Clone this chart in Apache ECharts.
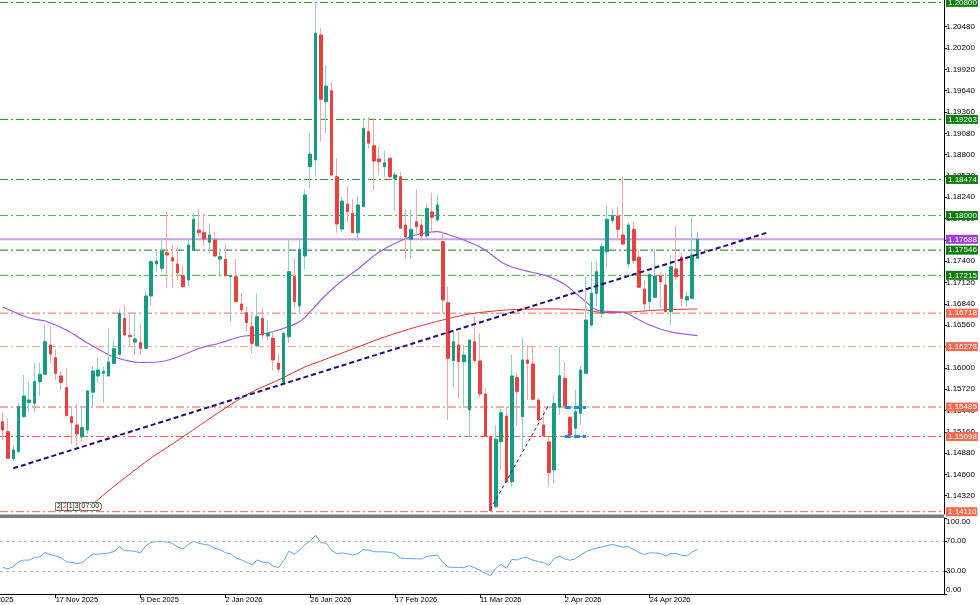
<!DOCTYPE html>
<html>
<head>
<meta charset="utf-8">
<script src="https://cdn.jsdelivr.net/npm/echarts@6/dist/echarts.min.js"></script>
<style>html,body{margin:0;padding:0;background:#fff}#c{width:980px;height:605px}</style>
</head>
<body>
<div id="c"></div>
<script>
// ---------- DATA ----------
const startDate = '2025-11-03';
const holidays = ['2025-12-25', '2026-01-01'];
const totalSlots = 178;

const opens = [1.15292,1.15161,1.14803,1.14898,1.15358,1.15542,1.15534,1.15818,1.15915,1.16300,
1.16133,1.15893,1.15739,1.15358,1.15249,1.15095,1.15183,1.15679,1.15893,1.15928,
1.15893,1.16059,1.16178,1.16650,1.16427,1.16339,1.16330,1.16256,1.16943,1.17364,
1.17307,1.17512,1.17446,1.17364,1.17210,1.17154,1.17548,1.17810,1.17775,1.17649,
1.17679,1.17429,1.17425,1.17197,1.17197,1.16838,1.16724,1.16540,1.16291,1.16650,
1.16418,1.16388,1.16059,1.15814,1.16409,1.17197,1.16812,1.17469,1.18642,1.18730,
1.20371,1.19495,1.19640,1.18510,1.17823,1.18152,1.18030,1.17775,1.18116,1.19101,
1.18917,1.18743,1.18642,1.18752,1.18489,1.18510,1.17876,1.17688,1.17919,1.17876,
1.17731,1.18047,1.17942,1.17657,1.16855,1.16094,1.16300,1.16080,1.15446,1.16343,
1.16090,1.15656,1.15095,1.14176,1.15030,1.15367,1.14504,1.15870,1.15358,1.16103,
1.16050,1.15577,1.15249,1.15026,1.14658,1.15482,1.15862,1.15350,1.15206,1.15403,
1.15928,1.16562,1.16979,1.16716,1.17525,1.17932,1.17994,1.17745,1.17364,1.17819,
1.17452,1.17035,1.16869,1.16926,1.17206,1.17088,1.16737,1.17298,1.17452,1.16891,
1.16913,1.17438];
const closes = [1.15183,1.14812,1.14921,1.15489,1.15630,1.15577,1.15818,1.15915,1.16343,1.16182,
1.15928,1.15810,1.15371,1.15279,1.15131,1.15214,1.15696,1.15958,1.15971,1.15954,
1.16077,1.16251,1.16716,1.16431,1.16409,1.16379,1.16256,1.16943,1.17394,1.17403,
1.17534,1.17482,1.17403,1.17249,1.17066,1.17613,1.17951,1.17775,1.17692,1.17745,
1.17469,1.17460,1.17210,1.17210,1.16869,1.16760,1.16593,1.16322,1.16671,1.16431,
1.16453,1.16103,1.15981,1.16453,1.17263,1.16869,1.17557,1.18270,1.18808,1.20394,
1.19527,1.19701,1.18533,1.17889,1.18191,1.18051,1.17775,1.18139,1.19146,1.18949,
1.18716,1.18707,1.18694,1.18510,1.18533,1.17833,1.17722,1.17819,1.17854,1.17731,
1.18095,1.17977,1.18139,1.16891,1.16125,1.16343,1.16080,1.16168,1.16365,1.16094,
1.15656,1.15105,1.14125,1.15061,1.15411,1.14504,1.15893,1.15686,1.16103,1.16059,
1.15587,1.15315,1.15105,1.14623,1.15534,1.15897,1.15499,1.15118,1.15424,1.15971,
1.16628,1.16979,1.17263,1.17591,1.17951,1.17998,1.17819,1.17626,1.17876,1.17407,
1.17058,1.16838,1.17228,1.17206,1.17131,1.16737,1.17328,1.17197,1.16913,1.16934,
1.17482,1.17688];
const lows = [1.15052,1.14799,1.14767,1.14890,1.15350,1.15411,1.15424,1.15630,1.15905,1.16059,
1.15840,1.15718,1.15365,1.14999,1.14964,1.15030,1.15131,1.15489,1.15805,1.15542,
1.15885,1.16050,1.16170,1.16409,1.16277,1.16168,1.16168,1.16250,1.16825,1.17263,
1.17263,1.17045,1.17045,1.17154,1.17045,1.17075,1.17540,1.17722,1.17613,1.17504,
1.17460,1.17219,1.17197,1.16606,1.16860,1.16737,1.16475,1.16191,1.16285,1.16365,
1.16365,1.15971,1.15936,1.15788,1.16322,1.16782,1.16716,1.17294,1.18358,1.18510,
1.18970,1.19080,1.18510,1.17775,1.17788,1.17906,1.17767,1.17670,1.18108,1.18883,
1.18336,1.18533,1.18510,1.18489,1.18064,1.17825,1.17438,1.17438,1.17745,1.17670,
1.17714,1.17767,1.17919,1.16716,1.15315,1.15752,1.15600,1.15468,1.15087,1.16059,
1.15621,1.15098,1.14110,1.14155,1.14658,1.14483,1.14439,1.15249,1.14898,1.15577,
1.15568,1.15292,1.15095,1.14439,1.14483,1.15380,1.15489,1.15095,1.15074,1.15249,
1.15920,1.16540,1.16803,1.16650,1.17307,1.17898,1.17679,1.17613,1.17307,1.17364,
1.17050,1.16760,1.16760,1.16913,1.16782,1.16730,1.16562,1.17154,1.16803,1.16803,
1.16905,1.17430];
const highs = [1.15411,1.15341,1.14986,1.15534,1.15906,1.15818,1.16067,1.16067,1.16562,1.16540,
1.16243,1.15949,1.15994,1.15489,1.15525,1.15503,1.15709,1.16024,1.16133,1.16015,
1.16519,1.16365,1.16769,1.16825,1.16716,1.16716,1.16585,1.17009,1.17416,1.17525,
1.17688,1.18043,1.17622,1.17591,1.17351,1.17688,1.18030,1.18082,1.18030,1.17898,
1.17788,1.17570,1.17636,1.17219,1.17429,1.16979,1.16803,1.16724,1.16979,1.16782,
1.16628,1.16475,1.16191,1.16475,1.17688,1.17438,1.17679,1.18345,1.19080,1.20805,
1.20459,1.19977,1.19758,1.18752,1.18248,1.18388,1.18213,1.18257,1.19277,1.19290,
1.19277,1.18904,1.18852,1.18760,1.18563,1.18576,1.18082,1.18082,1.18345,1.17964,
1.18152,1.18300,1.18270,1.17788,1.17066,1.16497,1.16475,1.16300,1.16372,1.16671,
1.16453,1.15731,1.15100,1.15249,1.15468,1.15489,1.16168,1.15928,1.16401,1.16300,
1.16300,1.15600,1.15446,1.15095,1.15643,1.16277,1.16067,1.15358,1.15709,1.16037,
1.17197,1.17394,1.17394,1.17636,1.18125,1.18095,1.18116,1.18510,1.17906,1.17919,
1.17548,1.17154,1.17236,1.17557,1.17263,1.17242,1.17482,1.17863,1.17504,1.17000,
1.17972,1.17788];

// moving averages read at [barIndex, price]
const purpleMA = [[0,1.16799],[5,1.16654],[8,1.16615],[12,1.16497],[16,1.16326],[18,1.16247],[21,1.16142],
[26,1.16070],[30,1.16083],[33,1.16142],[37,1.16254],[41,1.16326],[45,1.16411],[48,1.16431],[52,1.16497],
[56,1.16606],[58,1.16737],[60,1.16891],[63,1.17088],[67,1.17298],[71,1.17521],[76,1.17698],[79,1.17764],
[82,1.17788],[84,1.17751],[87,1.17679],[90,1.17587],[92,1.17495],[94,1.17390],[96,1.17324],[100,1.17252],
[103,1.17197],[106,1.17095],[108,1.16983],[110,1.16865],[112,1.16760],[115,1.16738],[117,1.16733],
[119,1.16668],[122,1.16562],[126,1.16471],[131,1.16422]];
const redMA = [[16,1.14146],[19,1.14330],[23,1.14553],[28,1.14816],[32,1.15000],[37,1.15236],[42,1.15472],
[47,1.15683],[52,1.15840],[57,1.16011],[60,1.16090],[66,1.16247],[72,1.16405],[78,1.16536],[83,1.16628],
[88,1.16707],[95,1.16760],[103,1.16773],[110,1.16760],[113,1.16727],[118,1.16733],[124,1.16760],[131,1.16773]];

const rsi = [35,33,36,42.5,44.5,44.7,48,49,54.7,52,
50,47.5,42.5,41.5,40,41.5,47,52.5,52.5,53,
54,56,62,57,56.8,56,54.2,63.5,68,69,
69.2,68.3,66.6,62,59,65,69.4,66.8,65.2,64.2,
59.9,58.5,54.2,53,47.2,45,41.5,38.5,44.7,42,
41.7,36.5,34.8,44,56.5,52.5,58,64.8,69.3,77.3,
67.5,67,57.5,53,54,53,51.3,53,58.5,57.8,
55.7,55.5,55.5,54.8,53.2,47.5,46.8,46.5,46.3,46.1,
49.5,50.6,51,41.5,35.5,35,35,34.5,37.3,34.5,
31.3,27.5,24,33.9,39,34,45.5,44.8,47.7,47.7,
44.5,42.7,41.2,37.5,46.8,49.7,46,44.5,46.5,51.5,
55.7,58.5,60.3,62,63.8,65.1,63.5,61.6,62.6,58.3,
54.6,52,54.2,54,53.5,50,53.5,53.2,51,50.3,
55.5,58.6];

const resistanceLevels = [1.20800, 1.19263, 1.18474, 1.18000, 1.17546, 1.17215];
const supportLevels = [1.16718, 1.16278, 1.15485, 1.15098, 1.14110];
const bidLevel = 1.17688;
const mainTrend = [[2, 1.14680], [144, 1.17772]];
const minorTrend = [[92, 1.14142], [103, 1.15512]];
const orderMarks = [[106, 110, 1.15485], [106, 110, 1.15098]];

const priceTicks = [1.14320,1.14600,1.14880,1.15160,1.15440,1.15720,1.16000,1.16280,1.16560,1.16840,
1.17120,1.17400,1.17680,1.17960,1.18240,1.18520,1.18800,1.19080,1.19360,1.19640,1.19920,1.20200,1.20480];
const rsiTicks = [0, 30, 70, 100];
const rsiLevels = [30, 70];
const priceMin = 1.14080, priceMax = 1.20831;

// ---------- BUILD ----------
const MONTHS = ['Jan','Feb','Mar','Apr','May','Jun','Jul','Aug','Sep','Oct','Nov','Dec'];
function buildDates(n) {
  const out = [];
  const d = new Date(startDate + 'T00:00:00Z');
  while (out.length < n) {
    const iso = d.toISOString().slice(0, 10);
    const wd = d.getUTCDay();
    if (wd !== 0 && wd !== 6 && holidays.indexOf(iso) < 0) {
      out.push(d.getUTCDate() + ' ' + MONTHS[d.getUTCMonth()] + ' ' + d.getUTCFullYear());
    }
    d.setUTCDate(d.getUTCDate() + 1);
  }
  return out;
}
const nBars = opens.length;
const cats = buildDates(nBars);
for (let i = nBars; i < totalSlots; i++) cats.push('f' + i);

const wickData = opens.map((o, i) => [o, closes[i], lows[i], highs[i]]);
const bodyData = opens.map((o, i) => [o, closes[i], Math.min(o, closes[i]), Math.max(o, closes[i])]);

const showLabel = (idx) => idx < nBars && idx >= 10 && (idx - 10) % 16 === 0;
const FONT = 'Liberation Sans';
const greenShades = ['#139a13', '#158f15', '#22a022', '#4cb84c', '#0d7a0d', '#3cae3c'];
const redShades = ['#f06a55', '#f59a88', '#f0604a', '#f0604a', '#f0604a'];

function levelSeries(v, color, bg, solid) {
  return {
    type: 'line', xAxisIndex: 2, yAxisIndex: 0, silent: true, z: 1,
    data: [[0, v], [1, v]], showSymbol: false, symbol: 'none',
    lineStyle: { color: color, type: solid ? 'solid' : [8, 3, 2, 3], width: solid ? 2 : 1 },
    endLabel: {
      show: true, distance: 2, formatter: () => v.toFixed(5),
      color: '#fff', backgroundColor: bg, fontSize: 8, fontFamily: FONT,
      lineHeight: 9, padding: [0, 1, 0, 2]
    }
  };
}
const levelSeriesList = [];
resistanceLevels.forEach((v, i) => levelSeriesList.push(levelSeries(v, greenShades[i], '#0b7d0b', false)));
supportLevels.forEach((v, i) => levelSeriesList.push(levelSeries(v, redShades[i], '#f5694e', false)));
levelSeriesList.push(levelSeries(bidLevel, '#c9a0e8', '#9b3fd3', true));

const trendData = [
  [{ coord: mainTrend[0] }, { coord: mainTrend[1], lineStyle: { color: '#2b0b73', width: 2, type: [5, 3] } }],
  [{ coord: minorTrend[0] }, { coord: minorTrend[1], lineStyle: { color: '#3a1a9e', width: 1, type: [3, 3] } }]
];
orderMarks.forEach(m => trendData.push([{ coord: [m[0], m[2]] },
  { coord: [m[1], m[2]], lineStyle: { color: '#1e88e5', width: 3, type: [6, 3] } }]));

const chart = echarts.init(document.getElementById('c'), null, { renderer: 'canvas' });
chart.setOption({
  animation: false,
  backgroundColor: '#fff',
  textStyle: { fontFamily: FONT },
  grid: [
    { left: 0, right: 36, top: 0, height: 514 },
    { left: 0, right: 36, top: 518, height: 76 }
  ],
  xAxis: [
    { type: 'category', gridIndex: 0, data: cats, boundaryGap: true,
      axisLine: { show: false }, axisTick: { show: false }, axisLabel: { show: false }, splitLine: { show: false } },
    { type: 'category', gridIndex: 1, data: cats, boundaryGap: true,
      axisLine: { show: true, lineStyle: { color: '#000', width: 1 } },
      axisTick: { show: true, alignWithLabel: true, interval: showLabel, length: 4, lineStyle: { color: '#000' } },
      axisLabel: { show: true, interval: showLabel, align: 'left', margin: 2, fontSize: 7.5, color: '#000', fontFamily: FONT },
      splitLine: { show: false } },
    { type: 'value', gridIndex: 0, min: 0, max: 1, show: false,
      axisLine: { show: false, onZero: false }, axisTick: { show: false }, axisLabel: { show: false }, splitLine: { show: false } }
  ],
  yAxis: [
    { type: 'value', gridIndex: 0, position: 'right', min: priceMin, max: priceMax,
      axisLine: { show: true, onZero: false, lineStyle: { color: '#000', width: 1 } },
      axisTick: { show: true, length: 3, customValues: priceTicks, lineStyle: { color: '#000' } },
      axisLabel: { show: true, customValues: priceTicks, formatter: v => v.toFixed(5), margin: 2,
        fontSize: 8, color: '#000', fontFamily: FONT },
      splitLine: { show: false } },
    { type: 'value', gridIndex: 1, position: 'right', min: 0, max: 100,
      axisLine: { show: true, onZero: false, lineStyle: { color: '#000', width: 1 } },
      axisTick: { show: true, length: 3, customValues: rsiTicks, lineStyle: { color: '#000' } },
      axisLabel: { show: true, customValues: rsiTicks, formatter: v => v.toFixed(2), margin: 2,
        fontSize: 8, color: '#000', fontFamily: FONT,
        verticalAlignMinLabel: 'bottom', verticalAlignMaxLabel: 'top' },
      splitLine: { show: false } }
  ],
  series: levelSeriesList.concat([
    { type: 'line', name: 'MA red', xAxisIndex: 0, yAxisIndex: 0, data: redMA, showSymbol: false, smooth: 0.3,
      lineStyle: { color: '#e83030', width: 1 }, z: 2 },
    { type: 'line', name: 'MA purple', xAxisIndex: 0, yAxisIndex: 0, data: purpleMA, showSymbol: false, smooth: 0.3,
      lineStyle: { color: '#a05ce0', width: 1.2 }, z: 2 },
    { type: 'candlestick', name: 'wick', xAxisIndex: 0, yAxisIndex: 0, data: wickData, barWidth: 1, z: 3,
      itemStyle: { color: '#8fd0c3', color0: '#f5a6a6', borderColor: '#8fd0c3', borderColor0: '#f5a6a6', borderWidth: 1 } },
    { type: 'candlestick', name: 'body', xAxisIndex: 0, yAxisIndex: 0, data: bodyData, barWidth: 3, z: 4,
      itemStyle: { color: '#159c84', color0: '#ec3f3f', borderColor: '#159c84', borderColor0: '#ec3f3f', borderWidth: 1 } },
    { type: 'line', name: 'trend', xAxisIndex: 0, yAxisIndex: 0, data: [], z: 5,
      markLine: { silent: true, symbol: 'none', animation: false, label: { show: false }, data: trendData } },
    { type: 'line', name: 'RSI', xAxisIndex: 1, yAxisIndex: 1, data: rsi, showSymbol: false,
      lineStyle: { color: '#5aa8f0', width: 1 },
      markLine: { silent: true, symbol: 'none', animation: false, label: { show: false },
        lineStyle: { color: '#c0c0c0', type: [3, 3], width: 1 },
        data: rsiLevels.map(v => ({ yAxis: v })) } }
  ]),
  graphic: [
    { type: 'rect', shape: { x: 0, y: 514.5, width: 944, height: 3.5 }, style: { fill: '#7a7a7a' }, silent: true },
    { type: 'text', x: -27.5, y: 596, style: { text: '24 Oct 2025', fontSize: 7.5, fill: '#000', fontFamily: FONT } },
    { type: 'text', x: 56, y: 503, z: 10,
      style: { text: '{b|2}{r|2}{b|1}{b|3}{t|07:00}', fontFamily: FONT,
        rich: {
          b: { fontSize: 7, fill: '#222', borderColor: '#444', borderWidth: 0.7, padding: [0, 1, 0, 1], backgroundColor: '#fff' },
          r: { fontSize: 7, fill: '#e33', borderColor: '#444', borderWidth: 0.7, padding: [0, 1, 0, 1], backgroundColor: '#fff' },
          t: { fontSize: 7, fill: '#222', borderColor: '#444', borderWidth: 0.7, borderRadius: 3, padding: [0, 2, 0, 2], backgroundColor: '#fff' }
        } } }
  ]
});
</script>
</body>
</html>
